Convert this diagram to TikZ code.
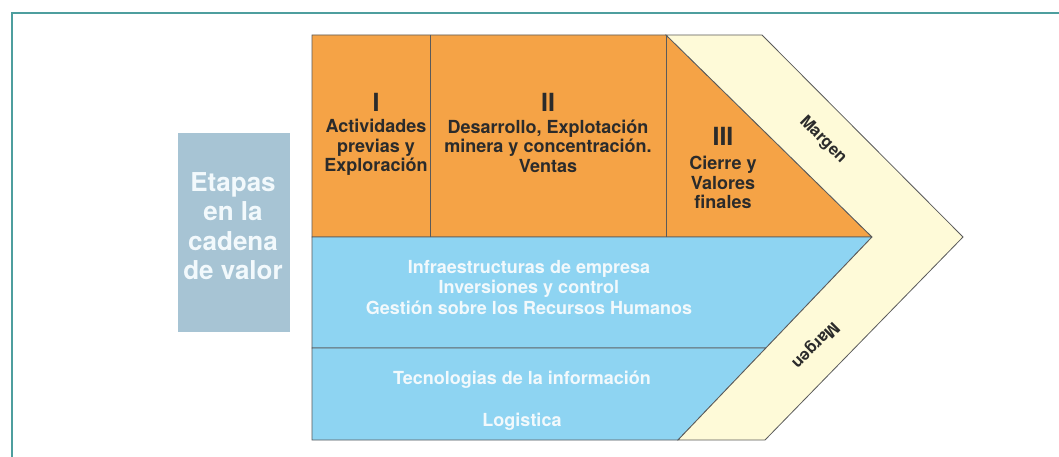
\documentclass[tikz,border=0pt]{standalone}
\usepackage{fontspec}
\setmainfont{TeX Gyre Heros}
\definecolor{frameteal}{HTML}{4D9E9E}
\definecolor{stageorange}{HTML}{F5A346}
\definecolor{supportblue}{HTML}{8ED4F2}
\definecolor{margincream}{HTML}{FEFAD8}
\definecolor{etapasbox}{HTML}{A7C4D4}
\definecolor{linegray}{HTML}{5A5A5A}
\definecolor{darktext}{HTML}{2B2B2B}
\definecolor{paletext}{HTML}{F2F9FC}
\begin{document}
\begin{tikzpicture}[x=1pt,y=-1pt,
  outline/.style={draw=linegray, line width=0.8pt, line join=miter},
  numeral/.style={font=\bfseries\fontsize{25}{28}\selectfont, text=darktext, inner sep=0pt},
  stagetext/.style={font=\bfseries\fontsize{18}{19.5}\selectfont, align=center, text=darktext, inner sep=0pt},
  supporttext/.style={font=\bfseries\fontsize{18}{20.5}\selectfont, align=center, text=paletext, inner sep=0pt},
  margintext/.style={font=\bfseries\fontsize{16.5}{18}\selectfont, text=darktext, inner sep=0pt},
  etapastext/.style={font=\bfseries\fontsize{26}{29.5}\selectfont, align=center, text=paletext, inner sep=0pt}]
\useasboundingbox (0,0) rectangle (1059,457);
\fill[white] (0,0) rectangle (1059,457);
% frame (top and left edges visible)
\draw[frameteal, line width=1.5pt] (12,460) -- (12,13) -- (1062,13);
% left label box
\node[fill=etapasbox, minimum width=112pt, minimum height=199pt, inner sep=0pt] (etapasbg) at (234,232.5) {};
\node[etapastext] (etapas) at (233,226) {Etapas\\en la\\cadena\\de valor};
% stages
\path[outline, fill=stageorange] (312,35) -- (666,35) -- (872,237) -- (312,237) -- cycle;
\draw[outline] (430,35) -- (430,237);
\draw[outline] (666,35) -- (666,237);
% support activities
\path[outline, fill=supportblue] (312,237) -- (872,237) -- (766,348) -- (312,348) -- cycle;
\path[outline, fill=supportblue] (312,348) -- (766,348) -- (678,440) -- (312,440) -- cycle;
% margin chevron
\path[outline, fill=margincream] (666,35) -- (762,35) -- (963,237) -- (765,440) -- (678,440) -- (872,237) -- cycle;
% stage texts
\node[numeral] (n1) at (376,102) {I};
\node[stagetext] (s1) at (376,147.4) {Actividades\\previas y\\Exploración};
\node[numeral] (n2) at (548,102) {II};
\node[stagetext] (s2) at (548,146) {Desarrollo, Explotación\\minera y concentración.\\Ventas};
\node[numeral] (n3) at (723,136.5) {III};
\node[stagetext] (s3) at (723,182.5) {Cierre y\\Valores\\finales};
% support texts
\node[supporttext] (sup1) at (529,287.5) {Infraestructuras de empresa\\Inversiones y control\\Gestión sobre los Recursos Humanos};
\node[supporttext, anchor=base] (sup2) at (522,384.5) {Tecnologias de la información};
\node[supporttext, anchor=base] (sup3) at (522,426.5) {Logistica};
% margin labels
\node[margintext, rotate=-45] (m1) at (823,140) {Margen};
\node[margintext, rotate=225] (m2) at (815,345) {Margen};
\end{tikzpicture}
\end{document}
